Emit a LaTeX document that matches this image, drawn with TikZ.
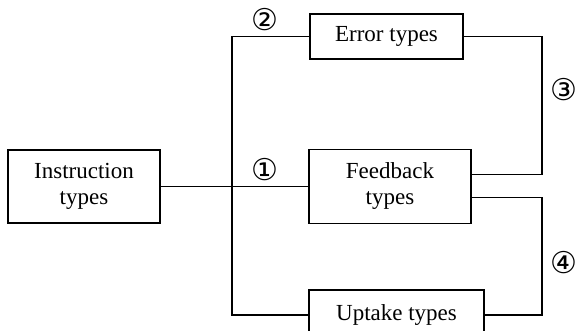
\documentclass[tikz,border=0pt]{standalone}
\usepackage{fontspec}
\setmainfont{Liberation Serif}
\newfontfamily\circfont{DejaVu Sans}
\usepackage{tikz}
\usetikzlibrary{positioning,calc}

\tikzset{
  typebox/.style={draw, line width=1.5pt, align=center, inner sep=0pt,
    font=\fontsize{23}{26}\selectfont},
  link/.style={line width=1.5pt},
  steplabel/.style={inner sep=0pt, font=\circfont\fontsize{30}{30}\selectfont}
}

\begin{document}
\begin{tikzpicture}[x=1pt, y=-1pt]
\clip (0,0) rectangle (576,331);
\useasboundingbox (0,0) rectangle (576,331);

\node[typebox, minimum width=152pt, minimum height=73pt] (instr) at (84,186.5)
  {Instruction\\types};
\node[typebox, minimum width=153pt, minimum height=45pt] (err) at (386.5,36.5)
  {Error types};
\node[typebox, minimum width=162pt, minimum height=74pt] (feed) at (390,186.5)
  {Feedback\\types};
\node[typebox, minimum width=175pt, minimum height=50pt] (upt) at (396.5,315)
  {Uptake types};

\coordinate (fork) at (232,186.5);
\coordinate (rail) at (542,0);

% left side
\draw[link] (instr.east) -- (feed.west);
\draw[link] (err.west) -| (fork) |- (upt.west);

% right side
\draw[link] (err.east) -- (err.east -| rail) |- ([yshift=12pt]feed.east);
\draw[link] ([yshift=-11pt]feed.east) -| (rail |- upt.east) -- (upt.east);

\node[steplabel] (s1) at (265,170) {①};
\node[steplabel] (s2) at (265,20) {②};
\node[steplabel] (s3) at (564,90) {③};
\node[steplabel] (s4) at (564,263) {④};
\end{tikzpicture}
\end{document}
